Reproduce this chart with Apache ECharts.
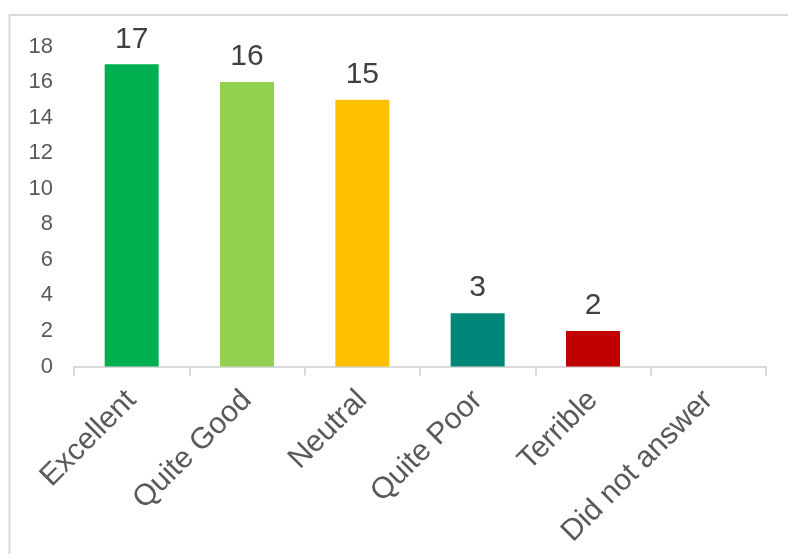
<!DOCTYPE html>
<html>
<head>
<meta charset="utf-8">
<script src="https://cdn.jsdelivr.net/npm/echarts@6/dist/echarts.min.js"></script>
<style>
  html, body { margin: 0; padding: 0; background: #ffffff; }
  #chart { width: 788px; height: 554px; }
</style>
</head>
<body>
<div id="chart"></div>
<script>
// Survey responses per rating
const categories = ['Excellent', 'Quite Good', 'Neutral', 'Quite Poor', 'Terrible', 'Did not answer'];
const counts = [17, 16, 15, 3, 2, 0];
const barColors = ['#00B050', '#92D050', '#FFC000', '#00877A', '#C00000', '#7F7F7F'];
const yTicks = { min: 0, max: 18, interval: 2 };

const chart = echarts.init(document.getElementById('chart'), null, { renderer: 'canvas' });

const font = 'Arial, "Liberation Sans", sans-serif';

chart.setOption({
  animation: false,
  backgroundColor: '#ffffff',
  graphic: [{
    type: 'rect',
    shape: { x: 9.5, y: 15, width: 900, height: 700 },
    style: { fill: 'none', stroke: '#d9d9d9', lineWidth: 2 },
    silent: true
  }],
  grid: { left: 74, right: 22, top: 46.5, bottom: 187.5, containLabel: false },
  xAxis: {
    type: 'category',
    data: categories,
    axisLine: { show: true, lineStyle: { color: '#d9d9d9', width: 2 } },
    axisTick: { show: true, alignWithLabel: false, length: 9, lineStyle: { color: '#d9d9d9', width: 2 } },
    axisLabel: {
      rotate: 45,
      interval: 0,
      margin: 29,
      color: '#595959',
      fontSize: 30,
      fontFamily: font
    },
    splitLine: { show: false }
  },
  yAxis: {
    type: 'value',
    min: yTicks.min,
    max: yTicks.max,
    interval: yTicks.interval,
    axisLine: { show: false },
    axisTick: { show: false },
    splitLine: { show: false },
    axisLabel: {
      color: '#595959',
      fontSize: 22,
      fontFamily: font,
      margin: 21,
      padding: [0, 0, 4, 0]
    }
  },
  series: [{
    type: 'bar',
    barWidth: 54,
    data: counts.map((v, i) => ({
      value: v,
      itemStyle: { color: barColors[i] },
      label: { show: v > 0 }
    })),
    label: {
      show: true,
      position: 'top',
      distance: 10,
      color: '#404040',
      fontSize: 30,
      fontFamily: font
    }
  }]
});
</script>
</body>
</html>
